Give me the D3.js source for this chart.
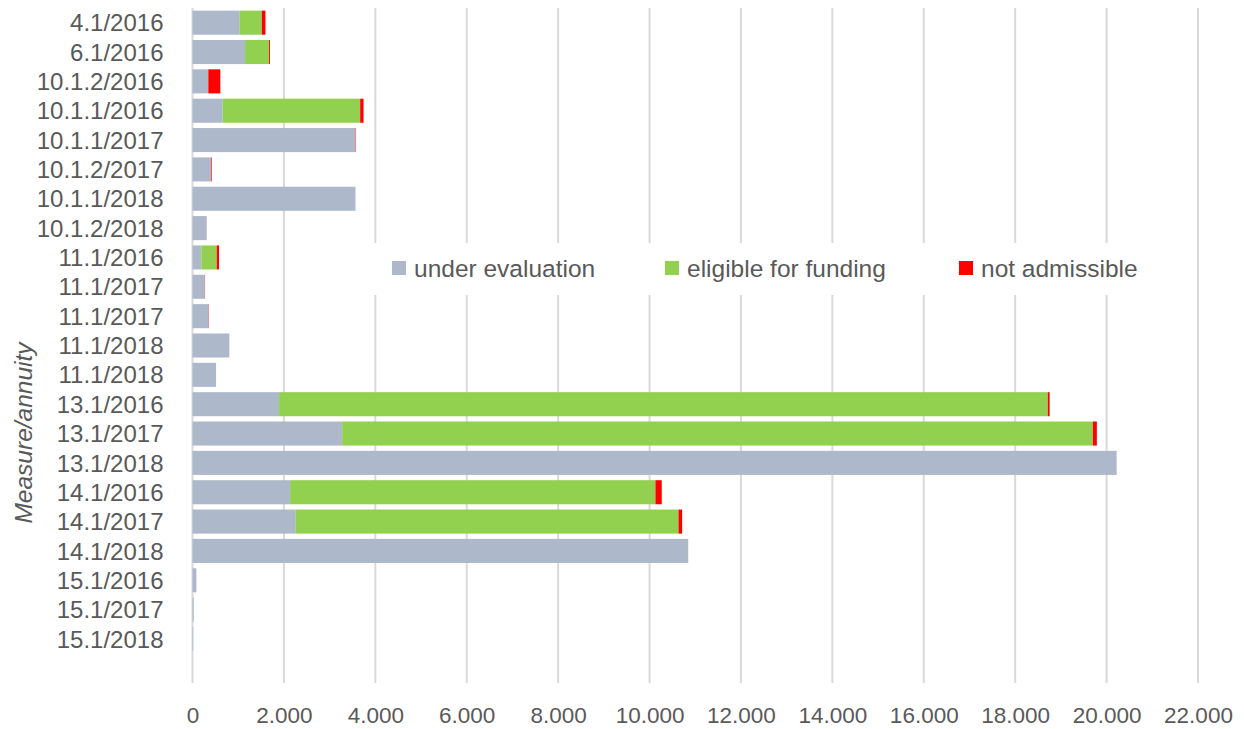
<!DOCTYPE html>
<html>
<head>
<meta charset="utf-8">
<script src="https://cdn.jsdelivr.net/npm/d3@7"></script>
<style>
  body { margin: 0; background: #fff; }
  svg { display: block; font-family: "Liberation Sans", Arial, sans-serif; }
  .tick text { fill: #595959; }
</style>
</head>
<body>
<svg id="chart" width="1244" height="729"></svg>
<script>
// Measure/annuity rows, top to bottom (last one is an empty slot, as in the original)
var categories = ["4.1/2016", "6.1/2016", "10.1.2/2016", "10.1.1/2016", "10.1.1/2017",
    "10.1.2/2017", "10.1.1/2018", "10.1.2/2018", "11.1/2016", "11.1/2017", "11.1/2017",
    "11.1/2018", "11.1/2018", "13.1/2016", "13.1/2017", "13.1/2018", "14.1/2016",
    "14.1/2017", "14.1/2018", "15.1/2016", "15.1/2017", "15.1/2018", ""];
var underEvaluation = [1034, 1150, 346, 661, 3560, 405, 3566, 311, 193, 259, 346,
    806, 515, 1894, 3274, 20220, 2135, 2260, 10846, 84, 26, 15, 0];
var eligible = [482, 526, 0, 3008, 0, 0, 0, 0, 337, 0, 0,
    0, 0, 16820, 16425, 0, 7994, 8373, 0, 0, 0, 0, 0];
var notAdmissible = [80, 20, 263, 73, 10, 15, 0, 0, 50, 8, 8,
    0, 0, 40, 88, 0, 138, 80, 0, 0, 0, 0, 0];
var seriesNames = ["under evaluation", "eligible for funding", "not admissible"];
var seriesColors = ["#ADB9CA", "#92D050", "#FF0000"];
var xTicks = [0, 2000, 4000, 6000, 8000, 10000, 12000, 14000, 16000, 18000, 20000, 22000];

(function() {
    var svg = d3.select("#chart");
    var plotLeft = 192.5, plotRight = 1198, plotTop = 8, plotBottom = 683;

    var x = d3.scaleLinear().domain([0, 22000]).range([plotLeft, plotRight]);
    var y = d3.scaleBand()
        .domain(d3.range(categories.length))
        .range([plotTop, plotBottom])
        .paddingInner(0.18)
        .paddingOuter(0.09);

    var locale = d3.formatLocale({decimal: ",", thousands: ".", grouping: [3], currency: ["", ""]});
    var fmt = locale.format(",");

    // gridlines
    svg.append("g")
        .selectAll("line")
        .data(xTicks)
        .enter().append("line")
        .attr("x1", d => x(d)).attr("x2", d => x(d))
        .attr("y1", plotTop).attr("y2", plotBottom)
        .style("stroke", "#D9D9D9")
        .style("stroke-width", 2);

    // stack the three series
    var rows = categories.map(function(c, i) {
        return {i: i, s0: underEvaluation[i], s1: eligible[i], s2: notAdmissible[i]};
    });
    var stacked = d3.stack().keys(["s0", "s1", "s2"])(rows);

    svg.append("g")
        .selectAll("g")
        .data(stacked)
        .enter().append("g")
        .style("fill", (d, k) => seriesColors[k])
        .selectAll("rect")
        .data(d => d.filter(p => p[1] > p[0]))
        .enter().append("rect")
        .attr("x", d => x(d[0]))
        .attr("width", d => x(d[1]) - x(d[0]))
        .attr("y", d => y(d.data.i))
        .attr("height", y.bandwidth());

    // axes
    var yAxis = svg.append("g")
        .attr("transform", "translate(" + (plotLeft - 26) + ",0)")
        .call(d3.axisLeft(y).tickSize(0).tickFormat(i => categories[i]));
    yAxis.select(".domain").remove();
    yAxis.selectAll("text").style("font-size", "24px").attr("dy", "0.36em");

    var xAxis = svg.append("g")
        .attr("transform", "translate(0," + 715 + ")")
        .call(d3.axisBottom(x).tickValues(xTicks).tickSize(0).tickFormat(d => fmt(d)));
    xAxis.select(".domain").remove();
    xAxis.selectAll("text").style("font-size", "22.5px").attr("dy", "0.36em").attr("y", 0);

    // axis title
    svg.append("text")
        .attr("transform", "translate(32,433) rotate(-90)")
        .attr("text-anchor", "middle")
        .style("font-style", "italic")
        .style("font-size", "24.5px")
        .style("fill", "#595959")
        .text("Measure/annuity");

    // legend
    var legend = svg.append("g");
    legend.append("rect")
        .attr("x", 372).attr("y", 243).attr("width", 780).attr("height", 52)
        .style("fill", "#fff");
    var legendX = [392, 665, 959];
    var items = legend.selectAll("g.item")
        .data(seriesNames)
        .enter().append("g")
        .attr("class", "item")
        .attr("transform", (d, k) => "translate(" + legendX[k] + ",261)");
    items.append("rect")
        .attr("width", 14).attr("height", 14)
        .style("fill", (d, k) => seriesColors[k]);
    items.append("text")
        .attr("x", 22).attr("y", 7).attr("dy", "0.36em")
        .style("font-size", "24.5px")
        .style("fill", "#595959")
        .text(d => d);
})();
</script>
</body>
</html>
